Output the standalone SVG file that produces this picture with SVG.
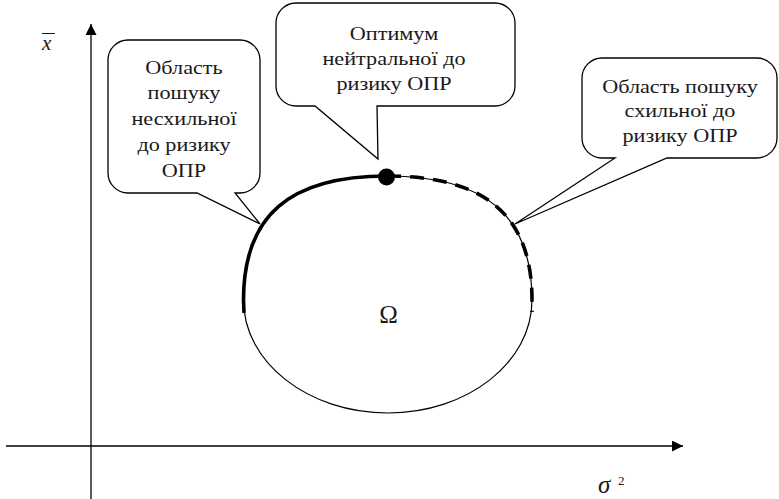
<svg xmlns="http://www.w3.org/2000/svg" width="779" height="499" viewBox="0 0 779 499">
  <style>
    .bg { fill: #ffffff; }
    .callout { fill: #ffffff; stroke: #000; stroke-width: 1.3; stroke-linejoin: miter; }
    .axis { fill: none; stroke: #000; stroke-width: 1.3; }
    .thin { fill: none; stroke: #000; stroke-width: 1.2; }
    .thick { fill: none; stroke: #000; stroke-width: 3.6; stroke-linecap: butt; }
    .dash { fill: none; stroke: #000; stroke-width: 3.6; stroke-dasharray: 14 9; }
    .t { font-family: "Liberation Serif", "Times New Roman", serif; font-size: 19px; fill: #1a1a1a; text-anchor: middle; }
    .it { font-family: "Liberation Serif", "Times New Roman", serif; font-style: italic; fill: #1a1a1a; }
  </style>
  <defs>
    <marker id="arr" viewBox="0 0 11 11" refX="11" refY="5.5" markerWidth="11" markerHeight="11" orient="auto" markerUnits="userSpaceOnUse">
      <path d="M0,0 L11,5.5 L0,11 Z" fill="#000"/>
    </marker>
  </defs>
  <rect class="bg" x="0" y="0" width="779" height="499"/>

  <g id="connectors">
    <line class="axis" x1="91" y1="499" x2="91" y2="24" marker-end="url(#arr)"/>
    <line class="axis" x1="6" y1="446" x2="683" y2="446" marker-end="url(#arr)"/>
  </g>

  <g id="axis-labels">
    <text class="it" x="42" y="50" font-size="21">x</text>
    <line x1="42" y1="33.5" x2="55" y2="33.5" stroke="#1a1a1a" stroke-width="1"/>
    <text class="it" x="598" y="492.5" font-size="25">σ</text>
    <text x="618" y="484.5" font-family="Liberation Serif, serif" font-size="13" fill="#1a1a1a">2</text>
  </g>

  <g id="region">
    <path class="thin" d="M387,176 C485.6,176 532,215.7 532,300 C532,362.4 467.5,413 388,413 C308.2,413 243.5,362.4 243.5,300 C243.5,215.7 289.4,176 387,176 Z"/>
    <path class="thick" d="M244,313 L243.5,300 C243.5,215.7 289.4,176 387,176"/>
    <path class="dash" d="M387,176 C485.6,176 532,215.7 532,300 L532,312"/>
    <circle cx="386.5" cy="177" r="8.5" fill="#000"/>
    <text x="388.5" y="323" font-family="Liberation Serif, serif" font-size="25" fill="#1a1a1a" text-anchor="middle">Ω</text>
  </g>

  <g id="callout-left">
    <path class="callout" d="M128,40 H240 A20,20 0 0 1 260,60 V173 A20,20 0 0 1 240,193 H235 L260,224 L197,193 H128 A20,20 0 0 1 108,173 V60 A20,20 0 0 1 128,40 Z"/>
    <g transform="translate(184 0) scale(1.17 1)">
      <text class="t" x="0" y="74">Область</text>
      <text class="t" x="0" y="99.5">пошуку</text>
      <text class="t" x="0" y="125.5">несхильної</text>
      <text class="t" x="0" y="151">до ризику</text>
      <text class="t" x="0" y="177">ОПР</text>
    </g>
  </g>

  <g id="callout-middle">
    <path class="callout" d="M296,3 H495 A20,20 0 0 1 515,23 V86 A20,20 0 0 1 495,106 H377 L378,159 L315,106 H296 A20,20 0 0 1 276,86 V23 A20,20 0 0 1 296,3 Z"/>
    <g transform="translate(394 0) scale(1.17 1)">
      <text class="t" x="0" y="40">Оптимум</text>
      <text class="t" x="0" y="65">нейтральної до</text>
      <text class="t" x="0" y="90">ризику ОПР</text>
    </g>
  </g>

  <g id="callout-right">
    <path class="callout" d="M602,58 H757 A20,20 0 0 1 777,78 V138 A20,20 0 0 1 757,158 H667 L515,224 L615,158 H602 A20,20 0 0 1 582,138 V78 A20,20 0 0 1 602,58 Z"/>
    <g transform="translate(680 0) scale(1.17 1)">
      <text class="t" x="0" y="93">Область пошуку</text>
      <text class="t" x="0" y="117.5">схильної до</text>
      <text class="t" x="0" y="142">ризику ОПР</text>
    </g>
  </g>
</svg>
